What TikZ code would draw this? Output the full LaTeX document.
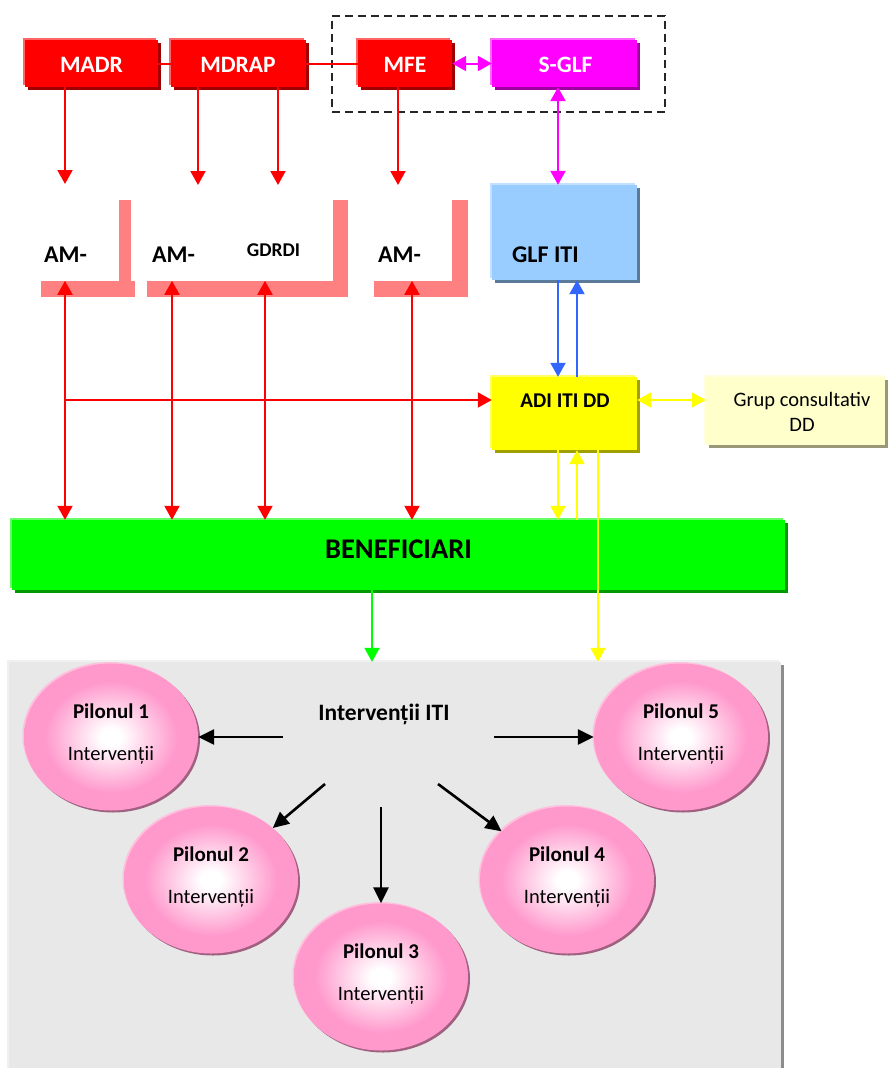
\documentclass[tikz,border=0pt]{standalone}
\usepackage{fontspec}
\setmainfont{Carlito}
\usetikzlibrary{arrows.meta,shadows,shapes.geometric}
\definecolor{rmain}{HTML}{FF0000}
\definecolor{rlight}{HTML}{FF6666}
\definecolor{rdark}{HTML}{A00000}
\definecolor{amcol}{HTML}{FF8080}
\definecolor{mmain}{HTML}{FF00FF}
\definecolor{mlight}{HTML}{FF66FF}
\definecolor{mdark}{HTML}{A000A0}
\definecolor{bmain}{HTML}{99CCFF}
\definecolor{blight}{HTML}{C2E0FF}
\definecolor{bdark}{HTML}{5B7A99}
\definecolor{ymain}{HTML}{FFFF00}
\definecolor{ylight}{HTML}{FFFF66}
\definecolor{ydark}{HTML}{A0A000}
\definecolor{gcmain}{HTML}{FFFFCC}
\definecolor{gclight}{HTML}{FFFFE0}
\definecolor{gcdark}{HTML}{999977}
\definecolor{gmain}{HTML}{00FF00}
\definecolor{glight}{HTML}{66FF66}
\definecolor{gdark}{HTML}{009900}
\definecolor{pmain}{HTML}{E8E8E8}
\definecolor{plight}{HTML}{F0F0F0}
\definecolor{pdark}{HTML}{8C8C8C}
\definecolor{pilpink}{HTML}{FF99CC}
\definecolor{pildark}{HTML}{A0607F}
\definecolor{pillight}{HTML}{FFC0DD}
\definecolor{arrblue}{HTML}{3366FF}
\pgfdeclareradialshading{pilonshade}{\pgfpoint{0bp}{0bp}}{color(0bp)=(white); color(3bp)=(white); color(19bp)=(pilpink); color(50bp)=(pilpink)}
\newcommand\myfs[1]{\fontsize{#1}{#1}\selectfont}
\begin{document}
\begin{tikzpicture}[x=1pt,y=-1pt,
  >={Triangle[width=15pt,length=14pt]},
  box/.style n args={3}{rectangle, draw=none, fill=#1, inner sep=0pt,
    general shadow={fill=#3, shadow xshift=2.5pt, shadow yshift=-2.5pt},
    general shadow={fill=#2, shadow xshift=-2.5pt, shadow yshift=2.5pt}},
  ambar/.style={rectangle, draw=none, fill=amcol, inner sep=0pt},
  pilon/.style={ellipse, draw=none, inner sep=0pt, minimum width=174pt, minimum height=147pt,
    shading=pilonshade,
    general shadow={fill=pildark, shadow xshift=2pt, shadow yshift=-2pt},
    general shadow={fill=pillight, shadow xshift=-1.5pt, shadow yshift=1.5pt}},
  wlbl/.style={anchor=base, inner sep=0pt, text=white, font=\myfs{23.5}\bfseries},
  blbl/.style={anchor=base, inner sep=0pt, text=black, font=\myfs{24}\bfseries},
  pt1/.style={anchor=base, inner sep=0pt, font=\myfs{21}\bfseries},
  pt2/.style={anchor=base, inner sep=0pt, font=\myfs{20.5}},
  redarr/.style={draw=rmain, line width=2pt},
  magarr/.style={draw=mmain, line width=2pt},
  bluarr/.style={draw=arrblue, line width=2pt},
  yelarr/.style={draw=ymain, line width=2pt},
  grnarr/.style={draw=gmain, line width=2pt},
  blkarr/.style={draw=black, line width=2.6pt, -{Triangle[width=15pt,length=16pt]}}
]
\useasboundingbox (0,0) rectangle (887,1068);

% dashed group
\node[draw=black!85, line width=1.6pt, dash pattern=on 8pt off 5pt, minimum width=333pt, minimum height=96pt, inner sep=0pt] (grp) at (498.5,64) {};

% ministries
\node[box={rmain}{rlight}{rdark}, minimum width=133pt, minimum height=47pt] (madr) at (91.5,63.5) {};
\node[box={rmain}{rlight}{rdark}, minimum width=135pt, minimum height=47pt] (mdrap) at (238.5,63.5) {};
\node[box={rmain}{rlight}{rdark}, minimum width=94pt, minimum height=47pt] (mfe) at (405,63.5) {};
\node[box={mmain}{mlight}{mdark}, minimum width=145pt, minimum height=47pt] (sglf) at (564.5,63.5) {};
\draw[redarr] (madr.east) -- (mdrap.west);
\draw[redarr] (mdrap.east) -- (mfe.west);
\node[wlbl] (tmadr) at (91.5,72) {MADR};
\node[wlbl] (tmdrap) at (238,72) {MDRAP};
\node[wlbl] (tmfe) at (405,72) {MFE};
\node[wlbl] (tsglf) at (565.5,72) {S-GLF};

% AM bars
\node[ambar, minimum width=94pt, minimum height=16pt] (am1) at (88,289) {};
\node[ambar, minimum width=12pt, minimum height=97pt] (am1v) at (125,248.5) {};
\node[ambar, minimum width=201pt, minimum height=16pt] (am2) at (247.5,289) {};
\node[ambar, minimum width=15pt, minimum height=97pt] (am2v) at (340.5,248.5) {};
\node[ambar, minimum width=94pt, minimum height=16pt] (am3) at (421,289) {};
\node[ambar, minimum width=16pt, minimum height=97pt] (am3v) at (460,248.5) {};
\node[blbl, anchor=base west] (tam1) at (44,262.5) {AM-};
\node[blbl, anchor=base west] (tam2) at (152,262.5) {AM-};
\node[blbl, font=\myfs{19.5}\bfseries] (tgdrdi) at (273.5,256) {GDRDI};
\node[blbl, anchor=base west] (tam3) at (378,262.5) {AM-};

% GLF, ADI, Grup
\node[box={bmain}{blight}{bdark}, minimum width=145pt, minimum height=95pt] (glf) at (564.5,232.5) {};
\node[blbl, anchor=base west] (tglf) at (512,262.3) {GLF ITI};
\node[box={ymain}{ylight}{ydark}, minimum width=145pt, minimum height=73pt] (adi) at (564.5,413.5) {};
\node[blbl, font=\myfs{21}\bfseries] (tadi) at (565,407.7) {ADI ITI DD};
\node[box={gcmain}{gclight}{gcdark}, minimum width=179pt, minimum height=68pt] (grup) at (795.5,411) {};
\node[pt2, font=\myfs{20.5}] (tgrup1) at (802,406) {Grup consultativ};
\node[pt2, font=\myfs{20.5}] (tgrup2) at (802,431.7) {DD};

% Beneficiari
\node[box={gmain}{glight}{gdark}, minimum width=773pt, minimum height=70pt] (ben) at (398.5,555) {};
\node[blbl, font=\myfs{28.5}\bfseries] (tben) at (398.5,558.3) {BENEFICIARI};

% panel
\node[box={pmain}{plight}{pdark}, minimum width=772pt, minimum height=420pt] (panel) at (395,872) {};
\node[blbl, font=\myfs{23.5}\bfseries] (titi) at (384,720.7) {Intervenții ITI};

% pilons
\foreach \n/\cx/\cy in {1/111/737, 2/211/880, 3/381/977, 4/567/880, 5/681/737}{
  \node[pilon] (p\n) at (\cx,\cy) {};
  \node[pt1] (pa\n) at (\cx,\cy-18.5) {Pilonul \n};
  \node[pt2] (pb\n) at (\cx,\cy+23) {Intervenții};
}

% coordinates
\coordinate (d1) at (65,184);
\coordinate (d2) at (198,185);
\coordinate (d3) at (278,185);
\coordinate (d4) at (398,185);
\coordinate (u1) at (65,0);
\coordinate (u2) at (172,0);
\coordinate (u3) at (265,0);
\coordinate (u4) at (412,0);
\coordinate (h) at (65,400);
\coordinate (lx1) at (558,0);
\coordinate (lx2) at (577,0);
\coordinate (lx3) at (598,0);
\coordinate (lxg) at (372,0);
\coordinate (yl) at (0,400);
\coordinate (c1) at (283,737);
\coordinate (c2) at (325,784);
\coordinate (c3) at (381,807);
\coordinate (c4) at (438,784);
\coordinate (c5) at (494,737);

% red arrows
\draw[redarr,->] (madr.south -| d1) -- (d1);
\draw[redarr,->] (mdrap.south -| d2) -- (d2);
\draw[redarr,->] (mdrap.south -| d3) -- (d3);
\draw[redarr,->] (mfe.south -| d4) -- (d4);
\draw[redarr,<->] (am1.north -| u1) -- (ben.north -| u1);
\draw[redarr,<->] (am2.north -| u2) -- (ben.north -| u2);
\draw[redarr,<->] (am2.north -| u3) -- (ben.north -| u3);
\draw[redarr,<->] (am3.north -| u4) -- (ben.north -| u4);
\draw[redarr,->] (h) -- (h -| adi.west);

% magenta
\draw[magarr,<->] (mfe.east) -- (sglf.west);
\draw[magarr,<->] (sglf.south -| lx1) -- (glf.north -| lx1);

% blue
\draw[bluarr,->] (glf.south -| lx1) -- (adi.north -| lx1);
\draw[bluarr,->] (adi.north -| lx2) -- (glf.south -| lx2);

% yellow
\draw[yelarr,<->] (adi.east |- yl) -- (grup.west |- yl);
\draw[yelarr,->] (adi.south -| lx1) -- (ben.north -| lx1);
\draw[yelarr,->] (ben.north -| lx2) -- (adi.south -| lx2);
\draw[yelarr,->] (adi.south -| lx3) -- (panel.north -| lx3);

% green
\draw[grnarr,->] (ben.south -| lxg) -- (panel.north -| lxg);

% black
\draw[blkarr] (c1) -- (p1.east);
\draw[blkarr] (c2) -- (p2);
\draw[blkarr] (c3) -- (p3);
\draw[blkarr] (c4) -- (p4);
\draw[blkarr] (c5) -- (p5.west);
\end{tikzpicture}
\end{document}
